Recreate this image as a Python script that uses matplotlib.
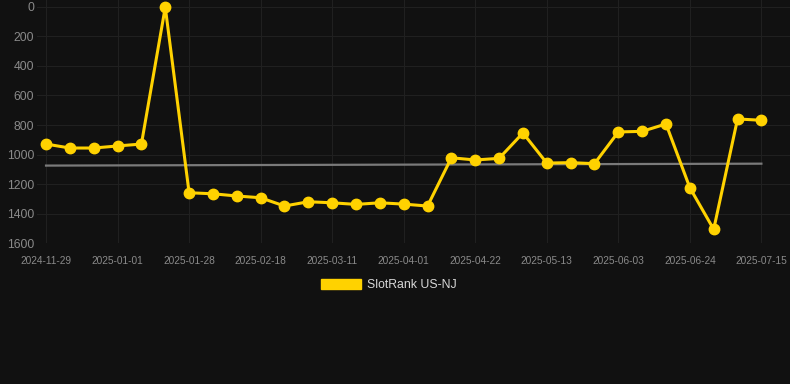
import matplotlib

matplotlib.use("Agg")
import matplotlib.pyplot as plt
import matplotlib.patches as patches

BG, GOLD, GRID = "#111111", "#FFD200", "#202020"

# weekly rank readings (lower is better, axis inverted)
ranks = [929, 956, 956, 942, 929, 2, 1259, 1266, 1281, 1293,
         1349, 1320, 1327, 1338, 1327, 1336, 1349, 1022, 1037, 1026,
         854, 1058, 1055, 1062, 847, 843, 793, 1225, 1507, 759, 768]
tick_labels = ["2024-11-29", "2025-01-01", "2025-01-28", "2025-02-18", "2025-03-11",
               "2025-04-01", "2025-04-22", "2025-05-13", "2025-06-03", "2025-06-24",
               "2025-07-15"]
trend = [1075, 1062]  # gray reference line, start and end values
yticks = [0, 200, 400, 600, 800, 1000, 1200, 1400, 1600]

plt.rcParams["font.family"] = ["Liberation Sans", "DejaVu Sans"]
fig = plt.figure(figsize=(7.9, 3.84), dpi=100, facecolor=BG)
ax = fig.add_axes([0.0468, 0.367, 0.9532, 0.633], facecolor=BG)

x = list(range(len(ranks)))
ax.plot([x[0], x[-1]], trend, color="#7a7a7a", lw=1.6, zorder=2)
ax.plot(x, ranks, color=GOLD, lw=2.2, marker="o", ms=7.5, zorder=3)

ax.set_ylim(1600, -47)
ax.set_xlim(-0.38, 31.2)
ax.set_yticks(yticks)
ax.set_xticks(x[::3])
ax.set_xticklabels(tick_labels)
ax.tick_params(axis="y", length=0, pad=2, labelsize=8.8, labelcolor="#8a8a8a")
ax.tick_params(axis="x", length=0, pad=9, labelsize=7.3, labelcolor="#8a8a8a")
ax.grid(True, color=GRID, lw=0.8)
for s in ax.spines.values():
    s.set_visible(False)

fig.legend([patches.Patch(color=GOLD)], ["SlotRank US-NJ"], loc="center",
           bbox_to_anchor=(0.492, 0.258), frameon=False, fontsize=8.8,
           handlelength=3.3, handleheight=0.95, handletextpad=0.5,
           labelcolor="#d8d8d8")

fig.savefig("out.png", dpi=100, facecolor=BG)
